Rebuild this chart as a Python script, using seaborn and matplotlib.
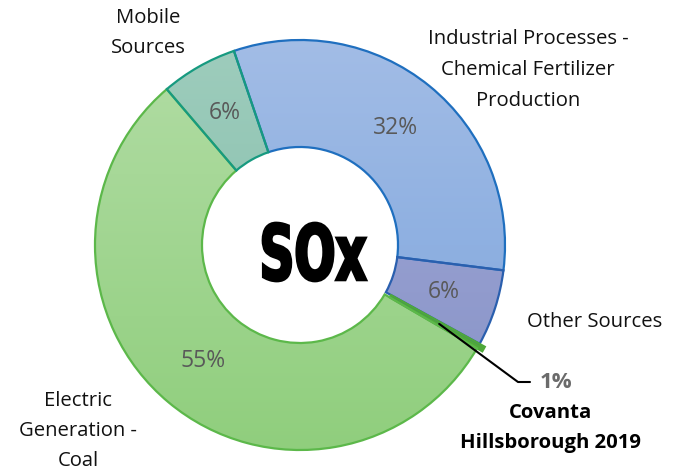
import numpy as np
import matplotlib
matplotlib.use("Agg")
import matplotlib.pyplot as plt
import seaborn as sns
from matplotlib.colors import LinearSegmentedColormap
from matplotlib.textpath import TextPath
from matplotlib.font_manager import FontProperties
from matplotlib.patches import PathPatch
from matplotlib.transforms import Affine2D

# ---- data ----
categories = ["Industrial Processes -\nChemical Fertilizer\nProduction", "Other Sources",
              "Covanta\nHillsborough 2019", "Electric\nGeneration -\nCoal", "Mobile\nSources"]
values = [32, 6, 0.4, 55, 6]
pct_labels = ["32%", "6%", "1%", "55%", "6%"]
center_title = "SOx"

sns.set_theme(style="white")
plt.rcParams['font.family'] = ['Open Sans', 'DejaVu Sans']

W, H = 688, 476
fig = plt.figure(figsize=(W / 100, H / 100), dpi=100)
ax = fig.add_axes([0, 0, 1, 1])
ax.set_xlim(0, W)
ax.set_ylim(0, H)
ax.axis("off")

cx, cy = 300, H - 245
R, r_in = 205, 98

top_cols = ["#a3bde6", "#a4a9d8", "#4fa83a", "#b3dda6", "#9fcdbd"]
bot_cols = ["#7aa3dc", "#8592c6", "#4fa83a", "#8fce7c", "#7dbaa6"]
edge_cols = ["#1f6fbf", "#2a5fae", "#4fa83a", "#5cb84a", "#179a80"]
explode = [0, 0, 6, 0, 0]

wedges, _ = ax.pie(values, center=(cx, cy), radius=R, startangle=108.8,
                   counterclock=False, explode=explode,
                   colors=top_cols,
                   wedgeprops=dict(width=R - r_in, linewidth=1.6))
ax.set_aspect("equal")

# gradient fills clipped to wedges
for w, c1, c2, ec in zip(wedges, top_cols, bot_cols, edge_cols):
    w.set_edgecolor(ec)
    cmap = LinearSegmentedColormap.from_list("g", [c2, c1])
    grad = np.linspace(0, 1, 256).reshape(-1, 1)
    im = ax.imshow(grad, cmap=cmap, extent=[cx - R - 10, cx + R + 10, cy - R - 10, cy + R + 10],
                   origin="lower", aspect="auto", zorder=1)
    im.set_clip_path(w)
    w.set_facecolor("none")
    w.set_zorder(2)
ax.set_xlim(0, W)
ax.set_ylim(0, H)

# percentage labels inside ring
rl = (R + r_in) / 2
for i, (w, lab) in enumerate(zip(wedges, pct_labels)):
    if i == 2:
        continue
    ang = np.deg2rad((w.theta1 + w.theta2) / 2)
    ax.text(cx + rl * np.cos(ang), cy + rl * np.sin(ang), lab, ha="center", va="center",
            fontsize=16.5, color="#595959", zorder=5)

# center text: condensed heavy lettering
tp = TextPath((0, 0), center_title, size=100,
              prop=FontProperties(family="DejaVu Sans", weight="bold"))
ext = tp.get_extents()
x0t, x1t, y0t, y1t = 263, 366, H - 281, H - 223
sx = (x1t - x0t) / ext.width
sy = (y1t - y0t) / ext.height
tr = Affine2D().translate(-ext.x0, -ext.y0).scale(sx, sy).translate(x0t, y0t)
ax.add_patch(PathPatch(tr.transform_path(tp), facecolor="black", edgecolor="black",
                       lw=2.0, zorder=5))

# category labels
lab_kw = dict(ha="center", va="center", fontsize=14.6, color="#111111", linespacing=1.7)
ax.text(148, H - 33, categories[4], **lab_kw)
ax.text(528, H - 70, categories[0], **lab_kw)
ax.text(595, H - 322, categories[1], **lab_kw)
ax.text(78, H - 431, categories[3], **lab_kw)

# Covanta leader + labels
wc = wedges[2]
ang = np.deg2rad((wc.theta1 + wc.theta2) / 2)
rstart = 160
xs, ys = cx + rstart * np.cos(ang), cy + rstart * np.sin(ang)
ax.plot([xs, 518, 530], [ys, H - 382, H - 382], color="black", lw=1.5, zorder=6)
ax.text(540, H - 382, pct_labels[2], ha="left", va="center", fontsize=16,
        fontweight="bold", color="#6b6b6b", zorder=6)
ax.text(551, H - 428, categories[2], ha="center", va="center", fontsize=14.6,
        fontweight="bold", color="black", linespacing=1.7, zorder=6)

fig.savefig("out.png", dpi=100)
